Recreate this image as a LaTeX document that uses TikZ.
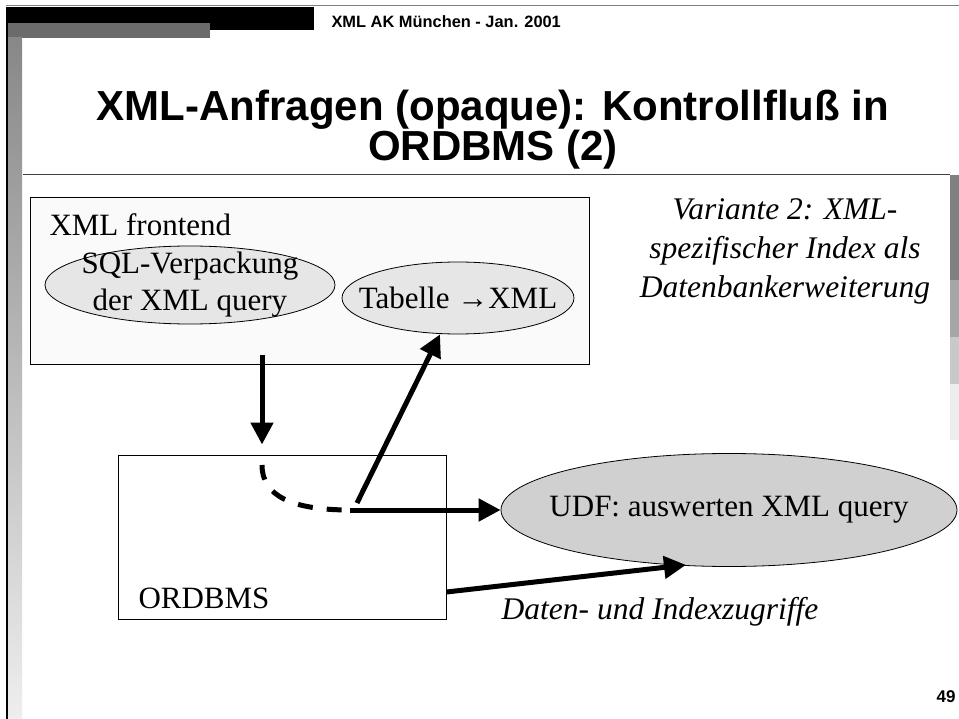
\documentclass[tikz,border=0pt]{standalone}
\usepackage{fontspec}
\setmainfont{Liberation Serif}
\setsansfont{Liberation Sans}
\usetikzlibrary{shapes.geometric,arrows.meta}

\definecolor{bardark}{RGB}{107,107,107}
\definecolor{fadetop}{RGB}{136,136,136}
\definecolor{fadebot}{RGB}{238,238,238}
\definecolor{boxfill}{RGB}{250,250,250}
\definecolor{ellfill}{RGB}{230,230,230}
\definecolor{udffill}{RGB}{208,208,208}

\begin{document}
\begin{tikzpicture}[x=1pt,y=-1pt,
    flow/.style={line width=5pt,-{Triangle[length=22pt,width=22pt]}},
    blob/.style={ellipse,draw,line width=0.8pt,inner sep=0pt},
    frame/.style={draw,line width=1pt,inner sep=0pt},
    txt/.style={font=\fontsize{31}{37}\selectfont},
    note/.style={font=\fontsize{31.5}{39}\selectfont\itshape},
    head/.style={font=\sffamily\bfseries\fontsize{16.4}{19}\selectfont}]
    \useasboundingbox (0,0) rectangle (959,719);
    \fill[white] (0,0) rectangle (959,719);

    % slide decoration
    \draw[gray,line width=1pt] (6,6) -- (959,6);
    \fill[black] (6,7) rectangle (314,30);
    \fill[bardark] (8,23) rectangle (210,38);
    \shade[top color=fadetop,bottom color=fadebot] (8,38) rectangle (22,719);
    \fill[black] (6,7) rectangle (8,719);
    \draw[black!75,line width=1pt] (23,175) -- (950,175);
    \fill[black!50] (950,175) rectangle (959,280);
    \fill[black!35] (950,280) rectangle (959,337);
    \fill[black!21] (950,337) rectangle (959,384);
    \fill[black!7] (950,384) rectangle (959,440);

    \node[head,anchor=west] (header) at (328,22) {XML AK München - Jan. 2001};
    \node[font=\sffamily\bfseries\fontsize{42}{40}\selectfont,align=center] (title) at (493,130)
        {XML-Anfragen (opaque): Kontrollfluß in\\ORDBMS (2)};
    \node[font=\sffamily\bfseries\fontsize{17}{20}\selectfont] (pageno) at (946,697) {49};

    % frontend and database
    \node[frame,fill=boxfill,minimum width=559pt,minimum height=167pt] (frontend) at (309.5,281.5) {};
    \node[txt,anchor=west] (frontlabel) at (46,225) {XML frontend};
    \node[blob,fill=ellfill,minimum width=290pt,minimum height=78pt] (sqlwrap) at (190,285) {};
    \node[txt,align=center] (sqltext) at (sqlwrap) {SQL-Verpackung\\der XML query};
    \node[blob,fill=ellfill,minimum width=232pt,minimum height=72pt] (tabxml) at (458,298) {};
    \node[txt] (tabtext) at (tabxml) {Tabelle →XML};

    \node[frame,fill=white,minimum width=328pt,minimum height=164pt] (ordbms) at (282,537) {};
    \node[txt,anchor=west] (ordbmslabel) at (135,598) {ORDBMS};
    \node[blob,fill=udffill,minimum width=456pt,minimum height=113pt] (udf) at (729,510) {};
    \node[txt] (udftext) at (udf) {UDF: auswerten XML query};

    \node[note,align=center] (variant) at (785,251)
        {Variante 2: XML-\\spezifischer Index als\\Datenbankerweiterung};
    \node[note] (accesslabel) at (660,612) {Daten- und Indexzugriffe};

    % control flow
    \coordinate (qin) at (262,355);
    \coordinate (qbend) at (262,465);
    \coordinate (fork) at (350,510);
    \coordinate (rise) at (357,503);
    \draw[flow,shorten >=10pt] (qin) -- (qin |- ordbms.north);
    \draw[line width=5pt,dash pattern=on 15pt off 14pt] (qbend) .. controls (262,496) and (292,510) .. (fork);
    \draw[flow] (fork) -- (udf.west);
    \draw[flow] (rise) -- ([xshift=-18pt]tabxml.south);
    \draw[flow] ([yshift=-55pt]ordbms.east) -- ([xshift=-43pt,yshift=2pt]udf.south);
\end{tikzpicture}
\end{document}
